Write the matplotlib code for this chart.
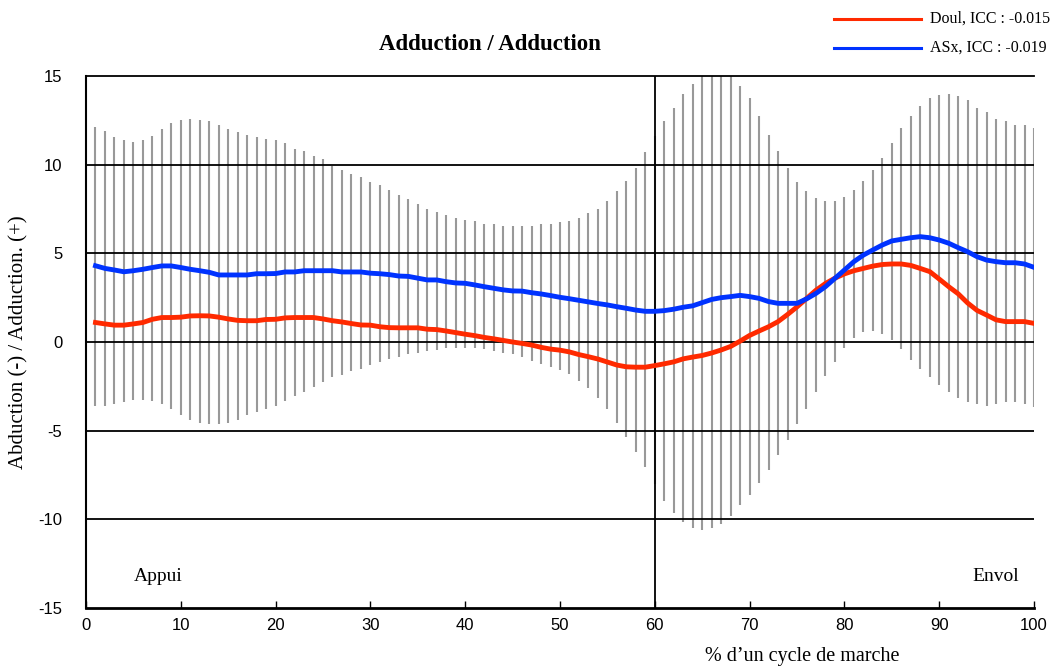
import numpy as np
import matplotlib
matplotlib.use("Agg")
import matplotlib.pyplot as plt
from matplotlib.lines import Line2D

plt.rcParams["axes.unicode_minus"] = False

# % of gait cycle
cycle = list(range(1, 101))

# grey band (top / bottom of each vertical bar)
band_high = [
    12.1, 11.9, 11.55, 11.4, 11.3, 11.4, 11.6, 12.0, 12.35, 12.5,
    12.6, 12.5, 12.45, 12.25, 12.0, 11.85, 11.7, 11.55, 11.45, 11.4,
    11.2, 10.9, 10.75, 10.5, 10.3, 9.95, 9.7, 9.45, 9.3, 9.0,
    8.85, 8.55, 8.3, 8.05, 7.8, 7.5, 7.35, 7.15, 7.0, 6.9,
    6.8, 6.65, 6.65, 6.55, 6.55, 6.55, 6.55, 6.65, 6.65, 6.75,
    6.8, 7.0, 7.25, 7.5, 7.95, 8.5, 9.1, 9.8, 10.7, 11.6,
    12.45, 13.2, 14.0, 14.55, 15.2, 15.4, 15.4, 15.2, 14.45, 13.75,
    12.75, 11.7, 10.75, 9.8, 9.0, 8.5, 8.1, 7.95, 7.95, 8.2,
    8.55, 9.1, 9.7, 10.4, 11.2, 12.05, 12.75, 13.3, 13.75, 13.95,
    14.0, 13.85, 13.65, 13.2, 12.95, 12.6, 12.45, 12.25, 12.25, 12.05,
]
band_low = [
    -3.6, -3.6, -3.5, -3.4, -3.25, -3.25, -3.35, -3.5, -3.75, -4.1,
    -4.4, -4.55, -4.65, -4.65, -4.55, -4.4, -4.1, -3.95, -3.75, -3.6,
    -3.35, -3.05, -2.8, -2.55, -2.25, -2.0, -1.85, -1.65, -1.5, -1.3,
    -1.15, -0.98, -0.86, -0.7, -0.6, -0.52, -0.43, -0.36, -0.36, -0.34,
    -0.34, -0.41, -0.53, -0.6, -0.7, -0.86, -1.05, -1.22, -1.4, -1.56,
    -1.82, -2.18, -2.6, -3.15, -3.75, -4.55, -5.35, -6.2, -7.05, -8.0,
    -8.95, -9.65, -10.15, -10.5, -10.6, -10.5, -10.25, -9.8, -9.2, -8.6,
    -7.95, -7.2, -6.4, -5.5, -4.65, -3.8, -2.8, -1.9, -1.15, -0.32,
    0.2, 0.55, 0.62, 0.45, 0.1, -0.4, -1.0, -1.5, -2.0, -2.45,
    -2.8, -3.15, -3.4, -3.5, -3.6, -3.5, -3.4, -3.4, -3.5, -3.65,
]

doul = [
    1.1, 1.02, 0.95, 0.95, 1.02, 1.1, 1.28, 1.38, 1.38, 1.4,
    1.47, 1.48, 1.47, 1.4, 1.3, 1.22, 1.2, 1.2, 1.27, 1.28,
    1.36, 1.38, 1.38, 1.38, 1.3, 1.2, 1.13, 1.04, 0.96, 0.95,
    0.86, 0.81, 0.8, 0.8, 0.8, 0.72, 0.7, 0.62, 0.53, 0.44,
    0.36, 0.26, 0.18, 0.09, 0.0, -0.08, -0.17, -0.3, -0.4, -0.46,
    -0.56, -0.71, -0.83, -0.96, -1.13, -1.3, -1.4, -1.42, -1.42, -1.33,
    -1.23, -1.12, -0.95, -0.85, -0.76, -0.62, -0.45, -0.25, 0.05, 0.37,
    0.62, 0.86, 1.15, 1.55, 1.98, 2.45, 2.92, 3.3, 3.6, 3.84,
    4.02, 4.15, 4.28, 4.37, 4.4, 4.4, 4.32, 4.15, 3.97, 3.55,
    3.12, 2.72, 2.2, 1.78, 1.52, 1.25, 1.15, 1.15, 1.15, 1.05,
]
asx = [
    4.3, 4.15, 4.06, 3.96, 4.02, 4.1, 4.2, 4.29, 4.29, 4.2,
    4.1, 4.02, 3.93, 3.78, 3.78, 3.78, 3.78, 3.85, 3.85, 3.86,
    3.95, 3.95, 4.02, 4.02, 4.02, 4.02, 3.95, 3.95, 3.95, 3.88,
    3.85, 3.8, 3.72, 3.7, 3.6, 3.5, 3.5, 3.4, 3.33, 3.31,
    3.22, 3.12, 3.03, 2.94, 2.88, 2.87, 2.78, 2.71, 2.62, 2.52,
    2.44, 2.35, 2.26, 2.17, 2.09, 1.99, 1.9, 1.8, 1.73, 1.73,
    1.77, 1.85, 1.96, 2.04, 2.22, 2.4, 2.5, 2.56, 2.63, 2.56,
    2.46, 2.28, 2.18, 2.18, 2.18, 2.43, 2.74, 3.12, 3.59, 4.06,
    4.53, 4.9, 5.19, 5.47, 5.7, 5.79, 5.88, 5.94, 5.88, 5.75,
    5.57, 5.32, 5.09, 4.81, 4.62, 4.53, 4.47, 4.47, 4.4, 4.21,
]

labels = ["Doul, ICC : -0.015", "ASx, ICC : -0.019"]
colors = ["#ff2a00", "#0033ff"]
grid_levels = [-10, -5, 0, 5, 10]

serif = "Liberation Serif"
sans = "Liberation Sans"

fig = plt.figure(figsize=(10.55, 6.66), dpi=100)
ax = fig.add_axes([86 / 1055, 1 - 608 / 666, 948 / 1055, 532 / 666])

# grey bars
ax.vlines(cycle, band_low, band_high, color="#999999", lw=1.5, zorder=1)

# reference lines
for g in grid_levels:
    ax.axhline(g, color="black", lw=1.3, zorder=2)
ax.axvline(60, color="black", lw=1.3, zorder=2)

# curves
for series, col in zip([doul, asx], colors):
    ax.plot(cycle, series, color=col, lw=3.5, zorder=3)

ax.set_xlim(0, 100)
ax.set_ylim(-15, 15)
ax.set_xticks(range(0, 101, 10))
ax.set_yticks(range(-15, 16, 5))
ax.tick_params(axis="x", direction="in", length=5, width=1, pad=7, labelsize=12)
ax.tick_params(axis="y", length=0, pad=17, labelsize=12)
for lab in ax.get_xticklabels() + ax.get_yticklabels():
    lab.set_family(sans)

ax.spines["right"].set_visible(False)
ax.spines["top"].set_linewidth(1.3)
ax.spines["left"].set_linewidth(1.5)
ax.spines["bottom"].set_linewidth(2.0)

ax.set_ylabel("Abduction (-) / Adduction. (+)", family=serif, fontsize=15, va="center")
ax.yaxis.set_label_coords((19 - 86) / 948, 0.5)
ax.text(5, -13.2, "Appui", family=serif, fontsize=14, va="center")
ax.text(98.4, -13.2, "Envol", family=serif, fontsize=14, va="center", ha="right")

fig.text(490 / 1055, 1 - 45 / 666, "Adduction / Adduction", family=serif,
         fontsize=16.5, fontweight="bold", ha="center", va="center")
fig.text(802 / 1055, 1 - 656 / 666, "% d\u2019un cycle de marche", family=serif,
         fontsize=14.5, ha="center", va="center")

# legend drawn at the top right corner
for i, (lab, col) in enumerate(zip(labels, colors)):
    y = 1 - (19 + 28.7 * i) / 666
    fig.add_artist(Line2D([834 / 1055, 921 / 1055], [y, y], color=col, lw=2.2))
    fig.text(930 / 1055, y, lab, family=serif, fontsize=11.5, va="center", ha="left")

fig.savefig("out.png", dpi=100)
